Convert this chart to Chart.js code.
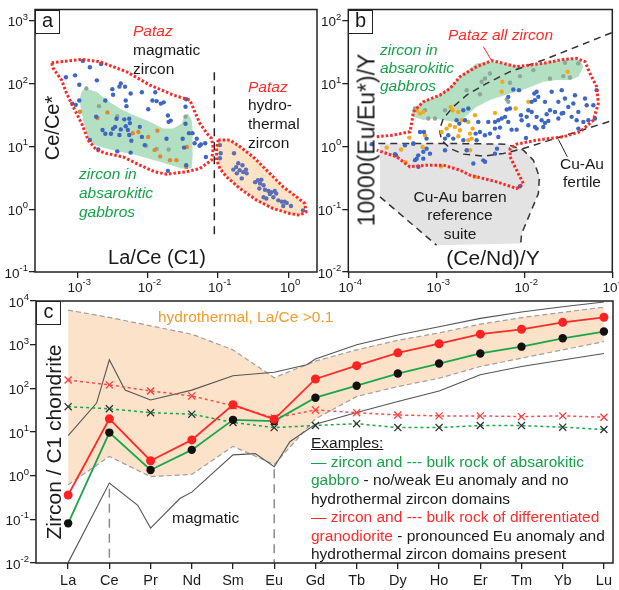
<!DOCTYPE html>
<html>
<head>
<meta charset="utf-8">
<script src="https://cdn.jsdelivr.net/npm/chart.js@4/dist/chart.umd.min.js"></script>
<style>
  html, body { margin: 0; padding: 0; background: #fff; }
  #page { position: relative; width: 619px; height: 590px; overflow: hidden; font-family: "Liberation Sans", Arial, sans-serif; }
  canvas { position: absolute; left: 0; top: 0; }
  .t { position: absolute; white-space: nowrap; color: #1a1a1a; font-size: 15.5px; line-height: 18.7px; }
  .red { color: #ff2b2b; }
  .green { color: #17a24a; }
  .orange { color: #f39a2c; }
  .it { font-style: italic; }
  .title { position: absolute; white-space: nowrap; color: #1a1a1a; line-height: 1; transform: translate(-50%, -50%); }
  .vtitle { position: absolute; white-space: nowrap; color: #1a1a1a; line-height: 1; transform: translate(-50%, -50%) rotate(-90deg); }
  .tag { position: absolute; box-sizing: border-box; border: 1.5px solid #222; background: #fff; font-size: 20px; line-height: 19px; text-align: center; color: #1a1a1a; }
</style>
</head>
<body>
<div id="page">
  <canvas id="chartA" width="619" height="590"></canvas>
  <canvas id="chartB" width="619" height="590"></canvas>
  <canvas id="chartC" width="619" height="590"></canvas>

  <!-- panel a annotations -->
  <div class="tag" style="left:35px;top:9.5px;width:25px;height:24px;">a</div>
  <div class="t" style="left:133px;top:20.5px;line-height:19px;"><span class="red it">Pataz</span><br>magmatic<br>zircon</div>
  <div class="t" style="left:248px;top:77.5px;"><span class="red it">Pataz</span><br>hydro-<br>thermal<br>zircon</div>
  <div class="t green it" style="left:79px;top:163.5px;line-height:19px;">zircon in<br>absarokitic<br>gabbros</div>
  <div class="title" style="left:157px;top:257px;font-size:20px;">La/Ce (C1)</div>
  <div class="vtitle" style="left:52px;top:128px;font-size:20px;">Ce/Ce*</div>

  <!-- panel b annotations -->
  <div class="tag" style="left:348px;top:9.5px;width:25px;height:24px;">b</div>
  <div class="t red it" style="left:448px;top:25.7px;">Pataz all zircon</div>
  <div class="t green it" style="left:380px;top:41px;line-height:18px;">zircon in<br>absarokitic<br>gabbros</div>
  <div class="t" style="left:400px;top:187.5px;width:120px;text-align:center;line-height:18.5px;">Cu-Au barren<br>reference<br>suite</div>
  <div class="t" style="left:540px;top:154.5px;width:84px;text-align:center;">Cu-Au<br>fertile</div>
  <div class="title" style="left:493px;top:257px;font-size:21px;">(Ce/Nd)/Y</div>
  <div class="vtitle" style="left:367px;top:140px;font-size:23px;">10000(Eu/Eu*)/Y</div>

  <!-- panel c annotations -->
  <div class="tag" style="left:36px;top:301px;width:25px;height:24px;">c</div>
  <div class="t orange" style="left:158px;top:307.7px;">hydrothermal, La/Ce &gt;0.1</div>
  <div class="t" style="left:172px;top:508.7px;">magmatic</div>
  <div class="vtitle" style="left:53px;top:442px;font-size:21px;">Zircon / C1 chondrite</div>
  <div class="t" style="left:311px;top:434px;line-height:18.5px;">
    <span style="text-decoration:underline;">Examples:</span><br>
    <span class="green">— zircon and --- bulk rock of absarokitic</span><br>
    <span class="green">gabbro</span> - no/weak Eu anomaly and no<br>
    hydrothermal zircon domains<br>
    <span class="red">— zircon and --- bulk rock of differentiated</span><br>
    <span class="red">granodiorite</span> - pronounced Eu anomaly and<br>
    hydrothermal zircon domains present
  </div>
</div>

<script>
// ---------------------------------------------------------------------------
// Panel a: Ce/Ce* versus La/Ce (C1); pairs are [log10 La/Ce, log10 Ce/Ce*]
// ---------------------------------------------------------------------------
const aMagmaticOutline = [[-3.364,2.331],[-2.937,2.385],[-2.677,2.347],[-2.298,2.187],[-1.966,1.975],[-1.635,1.816],[-1.398,1.736],[-1.327,1.550],[-1.256,1.365],[-1.137,1.179],[-1.089,1.126],[-1.066,0.967],[-1.089,0.780],[-1.256,0.648],[-1.444,0.594],[-1.729,0.557],[-1.895,0.594],[-2.108,0.700],[-2.346,0.833],[-2.582,0.887],[-2.724,0.939],[-2.844,1.099],[-2.937,1.365],[-3.057,1.630],[-3.151,1.843],[-3.222,2.055],[-3.341,2.241],[-3.364,2.331]];
const aGabbroField = [[-2.891,1.923],[-2.724,1.869],[-2.582,1.736],[-2.393,1.604],[-2.204,1.497],[-1.966,1.390],[-1.777,1.285],[-1.635,1.285],[-1.516,1.365],[-1.469,1.497],[-1.422,1.524],[-1.373,1.418],[-1.359,1.258],[-1.359,0.833],[-1.373,0.648],[-1.516,0.648],[-1.824,0.753],[-2.155,0.860],[-2.488,0.939],[-2.677,0.992],[-2.795,1.046],[-2.866,1.206],[-2.915,1.418],[-2.952,1.630],[-2.962,1.763],[-2.937,1.869],[-2.891,1.923]];
const aHydroOutline = [[-0.995,1.099],[-0.829,1.099],[-0.683,0.992],[-0.498,0.833],[-0.307,0.621],[-0.071,0.355],[0.120,0.195],[0.238,0.090],[0.252,-0.044],[0.167,-0.096],[0.024,-0.069],[-0.213,0.010],[-0.449,0.143],[-0.687,0.329],[-0.876,0.514],[-0.971,0.648],[-1.018,0.780],[-1.018,0.967],[-0.995,1.099]];
const aThreshold = [[-1.05,2.18],[-1.05,-0.46]];
const aMagmaticZircon = [[-2.92,2.36],[-2.82,2.26],[-2.66,2.31],[-3.16,2.10],[-3.03,2.13],[-2.72,2.05],[-2.97,1.98],[-2.38,2.00],[-2.40,1.95],[-2.32,1.95],[-2.50,1.91],[-2.24,1.84],[-2.08,1.86],[-1.89,1.86],[-2.49,1.82],[-1.93,1.73],[-1.87,1.72],[-2.31,1.73],[-2.60,1.73],[-3.07,1.68],[-2.97,1.73],[-3.02,1.66],[-1.81,1.68],[-1.77,1.70],[-1.99,1.59],[-2.30,1.64],[-1.45,1.75],[-1.46,1.63],[-2.73,1.47],[-2.44,1.44],[-2.33,1.43],[-2.26,1.44],[-1.71,1.49],[-1.70,1.39],[-1.67,1.41],[-2.31,1.32],[-2.46,1.31],[-2.38,1.27],[-2.28,1.26],[-2.11,1.31],[-2.64,1.26],[-2.60,1.20],[-2.49,1.28],[-2.26,1.18],[-2.08,1.15],[-1.73,1.12],[-1.46,1.36],[-1.41,1.21],[-1.36,1.21],[-1.50,1.12],[-1.30,1.12],[-1.33,1.05],[-1.24,1.03],[-1.18,1.05],[-1.26,1.01],[-2.82,1.10],[-2.23,1.09],[-2.04,1.02],[-2.43,0.92],[-2.24,0.90],[-1.48,0.98],[-1.17,0.83],[-1.71,0.61],[-1.45,0.70],[-2.70,0.95],[-2.52,1.20],[-2.40,1.18],[-2.25,1.37]];
const aGabbroZirconOrange = [[-2.96,1.55],[-2.57,1.54],[-2.71,1.45],[-2.21,1.21],[-2.13,1.23],[-1.86,1.25],[-1.99,1.15],[-1.68,0.78],[-1.59,0.78],[-1.82,0.84],[-1.44,0.99],[-1.45,0.67],[-1.90,0.94]];
const aGabbroZirconGrey = [[-2.87,1.92],[-2.69,1.64],[-2.43,1.48],[-2.02,1.01],[-1.70,0.95],[-1.87,0.96],[-1.46,1.47]];
const aHydrothermalZircon = [[-0.97,1.02],[-0.96,0.89],[-0.97,0.81],[-0.77,0.89],[-0.71,0.73],[-0.74,0.67],[-0.78,0.63],[-0.69,0.62],[-0.64,0.59],[-0.65,0.70],[-0.59,0.57],[-0.60,0.63],[-0.66,0.49],[-0.73,0.57],[-0.47,0.43],[-0.43,0.46],[-0.38,0.47],[-0.40,0.41],[-0.35,0.38],[-0.41,0.33],[-0.33,0.31],[-0.28,0.29],[-0.24,0.27],[-0.19,0.29],[-0.26,0.24],[-0.21,0.19],[-0.17,0.25],[-0.14,0.14],[-0.09,0.12],[-0.05,0.12],[-0.02,0.10],[0.04,0.05],[0.21,-0.02],[-0.31,0.17],[-0.35,0.19],[-0.07,0.05]];
const aXTicks = [1e-3, 1e-2, 1e-1, 1e0];
const aYTicks = [1e-1, 1e0, 1e1, 1e2, 1e3];

// ---------------------------------------------------------------------------
// Panel b: 10000(Eu/Eu*)/Y versus (Ce/Nd)/Y; pairs are [log10 x, log10 y]
// ---------------------------------------------------------------------------
const bPatazOutline = [[-3.677,0.152],[-3.488,0.179],[-3.299,0.232],[-3.280,0.365],[-3.261,0.550],[-3.147,0.710],[-2.958,0.816],[-2.844,0.922],[-2.731,1.108],[-2.541,1.268],[-2.371,1.363],[-2.314,1.347],[-2.087,1.268],[-1.784,1.321],[-1.556,1.384],[-1.405,1.400],[-1.310,1.347],[-1.253,1.161],[-1.178,0.949],[-1.159,0.683],[-1.215,0.418],[-1.367,0.232],[-1.556,0.152],[-1.859,0.099],[-2.087,0.035],[-2.162,-0.034],[-2.162,-0.167],[-2.087,-0.379],[-2.011,-0.592],[-2.087,-0.671],[-2.314,-0.565],[-2.465,-0.512],[-2.617,-0.459],[-2.731,-0.379],[-2.920,-0.299],[-3.109,-0.299],[-3.299,-0.326],[-3.450,-0.167],[-3.564,-0.114],[-3.677,-0.060]];
const bGabbroField = [[-3.280,0.577],[-3.185,0.683],[-2.996,0.790],[-2.844,0.949],[-2.693,1.161],[-2.541,1.321],[-2.371,1.347],[-2.162,1.294],[-1.973,1.268],[-1.784,1.321],[-1.556,1.384],[-1.367,1.374],[-1.329,1.268],[-1.386,1.108],[-1.480,1.055],[-1.632,1.055],[-1.784,1.029],[-1.973,0.922],[-2.162,0.843],[-2.390,0.736],[-2.541,0.630],[-2.693,0.444],[-2.806,0.391],[-2.920,0.418],[-3.034,0.444],[-3.147,0.418],[-3.261,0.471],[-3.280,0.577]];
const bBarrenField = [[-3.640,0.046],[-2.920,0.046],[-2.200,0.035],[-2.011,-0.060],[-1.897,-0.220],[-1.829,-0.485],[-1.840,-0.751],[-1.935,-1.070],[-2.030,-1.389],[-2.041,-1.548],[-2.996,-1.574],[-3.640,-0.804],[-3.640,0.046]];
const bBarrenEdge = [[-3.659,0.046],[-2.920,0.046],[-2.200,0.035],[-2.011,-0.060],[-1.897,-0.220],[-1.829,-0.485],[-1.840,-0.751],[-1.935,-1.070],[-2.030,-1.389],[-2.041,-1.548]];
const bBarrenDiagonal = [[-3.640,-0.804],[-2.996,-1.574]];
const bFertileEdge = [[-1.007,1.809],[-1.405,1.586],[-1.784,1.374],[-2.162,1.188],[-2.427,1.002],[-2.655,0.816],[-2.806,0.630],[-2.920,0.444],[-2.965,0.258],[-2.939,0.099],[-2.844,-0.034],[-2.693,-0.124],[-2.465,-0.156],[-2.238,-0.114],[-2.011,-0.034],[-1.708,0.099],[-1.405,0.232],[-1.007,0.407]];
const bPatazLeader = [[-2.465,1.586],[-2.371,1.363]];
const bFertileLeader = [[-1.613,0.110],[-1.511,-0.167]];
const bGabbroZirconGrey = [[-3.091,0.442],[-3.015,0.442],[-2.901,0.575],[-2.504,0.830],[-2.485,1.027],[-2.655,0.894],[-2.447,1.080],[-2.390,1.160],[-2.163,1.011],[-2.049,1.118],[-1.897,1.213],[-1.708,1.080],[-1.557,1.118],[-1.481,1.096],[-1.538,1.330],[-1.386,1.320],[-2.200,0.745],[-2.182,0.708],[-3.242,0.604],[-3.128,0.577]];
const bGabbroZirconOrange = [[-3.223,0.575],[-3.148,0.548],[-2.837,0.628],[-2.814,0.575],[-2.750,0.548],[-2.712,0.415],[-2.560,0.495],[-2.636,0.389],[-2.587,0.282],[-2.617,0.203],[-2.731,0.256],[-2.788,0.309],[-2.845,0.336],[-2.882,0.282],[-2.939,0.229],[-3.129,0.176],[-2.636,0.096],[-2.598,0.123],[-3.155,-0.010],[-3.307,0.139],[-2.947,-0.319],[-2.750,0.160],[-2.617,-0.063],[-2.560,-0.489],[-2.250,1.027],[-2.257,0.868],[-1.954,0.708],[-2.098,0.602],[-2.333,0.532],[-1.507,1.187],[-3.185,0.524],[-3.564,-0.020],[-3.400,-0.050],[-3.350,-0.250]];
const bPatazZircon = [[-2.693,0.575],[-2.636,0.602],[-2.769,0.415],[-2.674,0.415],[-2.739,0.362],[-2.523,0.389],[-2.409,0.389],[-2.333,0.389],[-2.333,0.282],[-2.390,0.203],[-2.447,0.176],[-2.295,0.149],[-2.504,0.229],[-2.553,0.203],[-2.542,0.096],[-2.864,0.176],[-2.901,0.123],[-2.807,0.123],[-2.693,0.096],[-3.110,0.123],[-3.140,0.229],[-3.185,0.229],[-3.261,0.043],[-3.110,-0.037],[-3.072,-0.116],[-3.205,-0.143],[-3.223,-0.196],[-3.356,0.016],[-3.458,-0.143],[-3.148,-0.196],[-2.466,-0.223],[-2.333,-0.116],[-2.655,-0.063],[-2.901,-0.063],
  [-2.125,0.905],[-2.060,0.894],[-2.182,0.788],[-1.886,0.841],[-1.860,0.868],[-1.841,0.788],[-1.879,0.735],[-1.916,0.708],[-1.765,0.708],[-1.689,0.868],[-1.575,0.894],[-1.538,0.761],[-1.424,0.814],[-1.310,0.761],[-1.291,0.655],[-1.613,0.708],[-1.443,0.681],[-1.386,0.548],[-1.500,0.628],[-1.575,0.522],[-1.651,0.548],[-1.708,0.575],[-1.746,0.511],[-1.803,0.415],[-1.860,0.469],[-1.916,0.548],[-1.954,0.575],[-1.973,0.469],[-2.030,0.415],[-2.038,0.495],[-2.163,0.602],[-2.200,0.586],[-2.219,0.469],[-2.257,0.442],[-2.295,0.415],[-2.182,0.389],[-2.276,0.298],[-2.144,0.266],[-2.087,0.266],[-1.954,0.335],[-1.860,0.282],[-1.765,0.373],[-1.727,0.405],[-1.613,0.442],[-1.557,0.532],[-1.462,0.469],[-1.405,0.415],[-1.329,0.389],[-1.272,0.415],[-1.197,0.442],[-1.216,0.655],[-1.178,0.894],[-1.386,0.282],[-1.981,0.133],[-1.879,0.309],[-1.784,0.309],[-2.310,-0.037],
  [-3.734,0.035],[-3.469,-0.124],[-3.261,0.046],[-3.147,-0.087],[-3.242,-0.220],[-3.204,-0.326],[-2.579,-0.273],[-2.446,-0.246],[-2.049,-0.634]];
const bXTicks = [1e-4, 1e-3, 1e-2, 1e-1];
const bYTicks = [1e-2, 1e-1, 1e0, 1e1, 1e2];

// ---------------------------------------------------------------------------
// Panel c: chondrite-normalised REE patterns
// ---------------------------------------------------------------------------
const elements = ['La','Ce','Pr','Nd','Sm','Eu','Gd','Tb','Dy','Ho','Er','Tm','Yb','Lu'];
const zirconGranodiorite = [0.36, 20, 2.2, 6.6, 42, 19.5, 164, 330, 650, 1050, 1740, 2250, 3240, 4240];
const zirconGabbro = [0.081, 9.7, 1.35, 3.9, 19, 17.8, 61, 115, 218, 370, 630, 900, 1400, 2000];
const bulkGranodiorite = [155, 120, 87, 67, 40, 21, 32, 27.7, 24.5, 23.4, 23.4, 22.5, 23.4, 21.8];
const bulkGabbro = [38, 34, 27.7, 25.6, 16.6, 12.6, 14.1, 15.5, 12.6, 12.6, 14.1, 14, 12.9, 11.4];
const hydrothermalUpper = [6200, 4200, 2700, 1740, 760, 175, 420, 760, 1260, 1860, 2950, 4170, 5500, 7240];
const hydrothermalLower = [0.62, 2.75, 0.95, 1.07, 4.7, 1.8, 20, 65, 110, 170, 316, 490, 760, 1175];
// magmatic envelope: [element position, value]
const magmaticUpper = [[0,8.3],[0.69,46],[1,450],[1.38,91],[2,54],[3,91],[4,195],[5,234],[5.79,347],[6,470],[7,1000],[8,1660],[9,2570],[10,4000],[11,5620],[12,7400],[13,9500]];
const magmaticLower = [[0,0.0102],[1,0.68],[1.69,0.21],[2,0.063],[2.71,0.30],[3,0.42],[4,3.0],[4.54,3.2],[5,1.6],[5.38,6.0],[6,15],[7,28],[8,50],[9,87],[10,204],[11,316],[12,447],[13,630]];
const ceMarker = [[1,0.5],[1,0.0101]];
const euMarker = [[5,1.4],[5,0.0101]];
const cYTicks = [1e-2, 1e-1, 1e0, 1e1, 1e2, 1e3, 1e4];

// ---------------------------------------------------------------------------
const W = 619, H = 590;
const FONT = '"Liberation Sans", Arial, sans-serif';
const fromLog = arr => arr.map(([a, b]) => ({ x: Math.pow(10, a), y: Math.pow(10, b) }));
const fromPairs = arr => arr.map(([a, b]) => ({ x: a, y: b }));
const series = arr => arr.map((v, i) => ({ x: i, y: v }));

// "10" with a raised exponent at each decade tick, plus the frame round the plot
const powerLabels = {
  id: 'powerLabels',
  afterDraw(chart, _args, opts) {
    const { ctx, chartArea } = chart;
    ctx.save();
    ctx.fillStyle = '#1a1a1a';
    ctx.textBaseline = 'middle';
    ctx.textAlign = 'left';
    for (const id of (opts.axes || [])) {
      const scale = chart.scales[id];
      for (const tick of scale.ticks) {
        const exp = String(Math.round(Math.log10(tick.value)));
        const pos = scale.getPixelForValue(tick.value);
        ctx.font = '13.5px ' + FONT;
        const wb = ctx.measureText('10').width;
        ctx.font = '9.5px ' + FONT;
        const ws = ctx.measureText(exp).width;
        let x, y;
        if (scale.isHorizontal()) { x = pos - (wb + ws) / 2 + 2; y = chartArea.bottom + 16; }
        else { x = chartArea.left - 7 - wb - ws; y = pos + 2; }
        ctx.font = '13.5px ' + FONT;
        ctx.fillText('10', x, y);
        ctx.font = '9.5px ' + FONT;
        ctx.fillText(exp, x + wb, y - 5.5);
      }
    }
    ctx.lineWidth = 1.5;
    ctx.strokeStyle = '#222';
    ctx.strokeRect(chartArea.left, chartArea.top, chartArea.width, chartArea.height);
    ctx.restore();
  }
};
Chart.register(powerLabels);

const tickGrid = { display: true, drawOnChartArea: false, drawTicks: true, tickLength: 6, color: '#222', lineWidth: 1.3 };

function logAxis(min, max, ticks, horizontal) {
  return {
    type: 'logarithmic', min, max,
    afterBuildTicks: s => { s.ticks = ticks.map(v => ({ value: v })); },
    afterFit: s => { if (horizontal) s.height = 8; else s.width = 8; },
    ticks: { display: false },
    grid: tickGrid,
    border: { display: false }
  };
}

function baseOptions(box, scales, extraPlugins) {
  return {
    responsive: false, animation: false, events: [],
    layout: { autoPadding: false, padding: { left: box.l - 8, top: box.t, right: W - box.r, bottom: H - box.b - (box.xh || 8) } },
    plugins: Object.assign({ legend: { display: false }, tooltip: { enabled: false } }, extraPlugins),
    scales
  };
}

const dots = (data, color, order) => ({ data, showLine: false, pointRadius: 2.2, pointBorderWidth: 0, pointBackgroundColor: color, pointBorderColor: color, order });
const area = (data, color, order) => ({ data, pointRadius: 0, borderColor: 'rgba(0,0,0,0)', borderWidth: 1, backgroundColor: color, fill: 'shape', tension: 0, order });
const path = (data, color, width, dash, order) => ({ data, pointRadius: 0, borderColor: color, borderWidth: width, borderDash: dash, fill: false, tension: 0, order });

const RED = '#ff2626', BLUE = '#3e66c4', GREEN_FILL = '#b3dfc3';

// Panel a
new Chart(document.getElementById('chartA'), {
  type: 'line',
  data: { datasets: [
    path(fromLog(aMagmaticOutline), RED, 3, [2.5, 2], 0),
    path(fromLog(aHydroOutline), RED, 3, [2.5, 2], 0),
    dots(fromLog(aHydrothermalZircon), '#5a6fb8', 1),
    dots(fromLog(aMagmaticZircon), BLUE, 2),
    dots(fromLog(aGabbroZirconOrange), '#e3862e', 2),
    dots(fromLog(aGabbroZirconGrey), '#8ea79a', 2),
    path(fromLog(aThreshold), '#222', 1.5, [8, 6], 3),
    area(fromLog(aGabbroField), GREEN_FILL, 5),
    area(fromLog(aHydroOutline), '#fde3c6', 5)
  ] },
  options: baseOptions({ l: 35, t: 9.5, r: 317, b: 272 }, {
    x: logAxis(Math.pow(10, -3.6), Math.pow(10, 0.41), aXTicks, true),
    y: logAxis(0.1, Math.pow(10, 3.178), aYTicks, false)
  }, { powerLabels: { axes: ['x', 'y'] } })
});

// Panel b
new Chart(document.getElementById('chartB'), {
  type: 'line',
  data: { datasets: [
    path(fromLog(bPatazOutline), RED, 3, [2.5, 2], 0),
    path(fromLog(bPatazLeader), RED, 1, [], 0),
    path(fromLog(bFertileLeader), '#222', 1, [], 0),
    dots(fromLog(bPatazZircon), BLUE, 1),
    dots(fromLog(bGabbroZirconOrange), '#f0aa1e', 1),
    dots(fromLog(bGabbroZirconGrey), '#8ea79a', 1),
    path(fromLog(bFertileEdge), '#333', 1.5, [7, 5], 3),
    path(fromLog(bBarrenEdge), '#333', 1.5, [7, 5], 3),
    path(fromLog(bBarrenDiagonal), '#333', 1.5, [7, 5], 3),
    area(fromLog(bGabbroField), GREEN_FILL, 5),
    area(fromLog(bBarrenField), '#e3e3e3', 6)
  ] },
  options: baseOptions({ l: 348.3, t: 9.5, r: 612.3, b: 272 }, {
    x: logAxis(1e-4, 1e-1, bXTicks, true),
    y: logAxis(0.01, Math.pow(10, 2.178), bYTicks, false)
  }, { powerLabels: { axes: ['x', 'y'] } })
});

// Panel c
const cross = (data, line, mark, order) => ({
  data, borderColor: line, borderWidth: 1.5, borderDash: [3, 3], tension: 0, fill: false,
  pointStyle: 'crossRot', pointRadius: 5, pointBorderColor: mark, pointBorderWidth: 1.3, order
});
const solid = (data, line, mark, r, order) => ({
  data, borderColor: line, borderWidth: 1.8, tension: 0, fill: false,
  pointStyle: 'circle', pointRadius: r, pointBackgroundColor: mark, pointBorderColor: mark, pointBorderWidth: 0, order
});

new Chart(document.getElementById('chartC'), {
  type: 'line',
  data: { datasets: [
    solid(series(zirconGranodiorite), '#ff2a2a', '#ff2222', 4.5, 0),
    solid(series(zirconGabbro), '#1aa64a', '#111', 4.2, 1),
    cross(series(bulkGranodiorite), '#ff4a4a', '#ff3b3b', 2),
    cross(series(bulkGabbro), '#1aa64a', '#333', 3),
    path(fromPairs(magmaticUpper), '#555', 1.1, [], 4),
    path(fromPairs(magmaticLower), '#555', 1.1, [], 4),
    path(fromPairs(ceMarker), '#8c8c8c', 1.5, [9, 6], 5),
    path(fromPairs(euMarker), '#8c8c8c', 1.5, [9, 6], 5),
    { data: series(hydrothermalUpper), borderColor: '#a0a0a0', borderWidth: 1.2, borderDash: [5, 3], pointRadius: 0, tension: 0, fill: '+1', backgroundColor: '#fbe2c9', order: 9 },
    { data: series(hydrothermalLower), borderColor: '#a0a0a0', borderWidth: 1.2, borderDash: [5, 3], pointRadius: 0, tension: 0, fill: false, order: 8 }
  ] },
  options: baseOptions({ l: 36, t: 301, r: 613, b: 563, xh: 27 }, {
    x: {
      type: 'linear', min: -0.78, max: 13.22,
      afterBuildTicks: s => { s.ticks = elements.map((_, i) => ({ value: i })); },
      afterFit: s => { s.height = 27; },
      ticks: { callback: v => elements[v], autoSkip: false, maxRotation: 0, padding: 3, color: '#1a1a1a', font: { family: FONT, size: 14.5 } },
      grid: tickGrid,
      border: { display: false }
    },
    y: logAxis(0.01, 1e4, cYTicks, false)
  }, { powerLabels: { axes: ['y'] } })
});
</script>
</body>
</html>
